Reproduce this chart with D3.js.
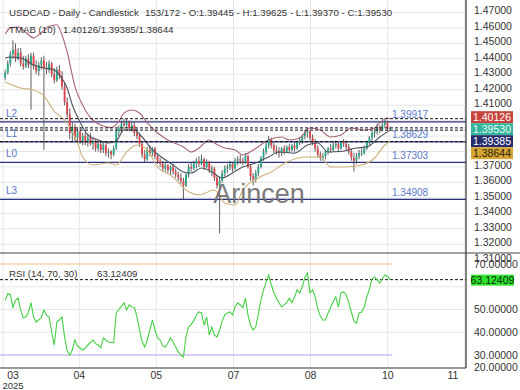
<!DOCTYPE html>
<html>
<head>
<meta charset="utf-8">
<script src="https://cdn.jsdelivr.net/npm/d3@7"></script>
<style>
  html, body { margin: 0; padding: 0; background: #fff; }
  svg { display: block; font-family: "Liberation Sans", Arial, sans-serif; }
</style>
</head>
<body>
<svg id="chart" width="520" height="390"></svg>
<script>
// Daily candles, [open, high, low, close]
const ohlc = [
  [1.4280,1.4330,1.4260,1.4310],[1.4310,1.4390,1.4300,1.4370],[1.4370,1.4450,1.4350,1.4430],[1.4430,1.4520,1.4400,1.4460],
  [1.4460,1.4500,1.4380,1.4400],[1.4400,1.4470,1.4390,1.4440],[1.4440,1.4470,1.4350,1.4370],[1.4370,1.4420,1.4330,1.4350],
  [1.4350,1.4420,1.4340,1.4400],[1.4400,1.4430,1.4340,1.4360],[1.4360,1.4440,1.4070,1.4420],[1.4420,1.4440,1.4330,1.4350],
  [1.4350,1.4390,1.4300,1.4320],[1.4320,1.4380,1.4290,1.4360],[1.4360,1.4410,1.4330,1.4390],[1.4390,1.4420,1.3810,1.4340],
  [1.4340,1.4380,1.4300,1.4330],[1.4330,1.4390,1.4310,1.4370],[1.4370,1.4380,1.4280,1.4300],[1.4300,1.4340,1.4240,1.4260],
  [1.4260,1.4350,1.4250,1.4330],[1.4330,1.4360,1.4270,1.4290],[1.4290,1.4320,1.4200,1.4220],[1.4220,1.4240,1.4100,1.4120],
  [1.4120,1.4150,1.4020,1.4040],[1.4040,1.4080,1.3880,1.3920],[1.3920,1.3990,1.3860,1.3960],[1.3960,1.3980,1.3870,1.3890],
  [1.3890,1.3950,1.3850,1.3930],[1.3930,1.3960,1.3850,1.3870],[1.3870,1.3920,1.3840,1.3900],[1.3900,1.3920,1.3840,1.3860],
  [1.3860,1.3910,1.3830,1.3890],[1.3890,1.3920,1.3840,1.3850],[1.3850,1.3890,1.3810,1.3870],[1.3870,1.3880,1.3800,1.3820],
  [1.3820,1.3870,1.3800,1.3850],[1.3850,1.3870,1.3790,1.3810],[1.3810,1.3860,1.3790,1.3840],[1.3840,1.3850,1.3770,1.3790],
  [1.3790,1.3820,1.3760,1.3800],[1.3800,1.3810,1.3750,1.3780],[1.3780,1.3840,1.3770,1.3820],[1.3820,1.3950,1.3810,1.3930],
  [1.3930,1.3970,1.3900,1.3950],[1.3950,1.4000,1.3920,1.3980],[1.3980,1.4010,1.3940,1.3970],[1.3970,1.4010,1.3950,1.3990],
  [1.3990,1.4000,1.3930,1.3950],[1.3950,1.3990,1.3930,1.3970],[1.3970,1.3990,1.3900,1.3920],[1.3920,1.3950,1.3880,1.3900],
  [1.3900,1.3920,1.3830,1.3850],[1.3850,1.3870,1.3760,1.3780],[1.3780,1.3810,1.3730,1.3750],[1.3750,1.3830,1.3740,1.3810],
  [1.3810,1.3840,1.3770,1.3790],[1.3790,1.3830,1.3770,1.3820],[1.3820,1.3830,1.3750,1.3770],[1.3770,1.3790,1.3720,1.3740],
  [1.3740,1.3760,1.3700,1.3720],[1.3720,1.3740,1.3670,1.3690],[1.3690,1.3730,1.3670,1.3710],[1.3710,1.3720,1.3660,1.3680],
  [1.3680,1.3710,1.3650,1.3700],[1.3700,1.3720,1.3650,1.3670],[1.3670,1.3690,1.3630,1.3650],[1.3650,1.3670,1.3610,1.3630],
  [1.3630,1.3660,1.3590,1.3610],[1.3610,1.3630,1.3490,1.3580],[1.3580,1.3660,1.3570,1.3650],[1.3650,1.3720,1.3630,1.3700],
  [1.3700,1.3730,1.3670,1.3690],[1.3690,1.3740,1.3680,1.3720],[1.3720,1.3760,1.3690,1.3740],[1.3740,1.3770,1.3700,1.3720],
  [1.3720,1.3780,1.3710,1.3750],[1.3750,1.3760,1.3680,1.3700],[1.3700,1.3750,1.3690,1.3730],[1.3730,1.3740,1.3660,1.3680],
  [1.3680,1.3710,1.3640,1.3690],[1.3690,1.3700,1.3610,1.3630],[1.3630,1.3650,1.3560,1.3580],[1.3580,1.3640,1.3270,1.3610],
  [1.3610,1.3680,1.3600,1.3660],[1.3660,1.3710,1.3640,1.3690],[1.3690,1.3720,1.3660,1.3700],[1.3700,1.3740,1.3680,1.3720],
  [1.3720,1.3730,1.3670,1.3690],[1.3690,1.3760,1.3680,1.3740],[1.3740,1.3770,1.3710,1.3750],[1.3750,1.3780,1.3720,1.3740],
  [1.3740,1.3760,1.3710,1.3730],[1.3730,1.3790,1.3720,1.3770],[1.3770,1.3780,1.3690,1.3700],[1.3700,1.3720,1.3610,1.3640],
  [1.3640,1.3660,1.3580,1.3620],[1.3620,1.3680,1.3600,1.3660],[1.3660,1.3720,1.3640,1.3700],[1.3700,1.3770,1.3690,1.3760],
  [1.3760,1.3820,1.3740,1.3800],[1.3800,1.3860,1.3780,1.3840],[1.3840,1.3900,1.3820,1.3880],[1.3880,1.3890,1.3820,1.3840],
  [1.3840,1.3860,1.3790,1.3810],[1.3810,1.3840,1.3780,1.3800],[1.3800,1.3830,1.3760,1.3790],[1.3790,1.3830,1.3770,1.3820],
  [1.3820,1.3840,1.3780,1.3800],[1.3800,1.3840,1.3790,1.3830],[1.3830,1.3850,1.3790,1.3810],[1.3810,1.3850,1.3800,1.3840],
  [1.3840,1.3860,1.3800,1.3820],[1.3820,1.3870,1.3810,1.3860],[1.3860,1.3890,1.3840,1.3870],[1.3870,1.3910,1.3850,1.3900],
  [1.3900,1.3940,1.3880,1.3920],[1.3920,1.3950,1.3890,1.3930],[1.3930,1.3940,1.3870,1.3890],[1.3890,1.3910,1.3840,1.3860],
  [1.3860,1.3880,1.3800,1.3820],[1.3820,1.3840,1.3760,1.3780],[1.3780,1.3800,1.3740,1.3760],[1.3760,1.3790,1.3740,1.3770],
  [1.3770,1.3810,1.3750,1.3800],[1.3800,1.3830,1.3780,1.3820],[1.3820,1.3850,1.3790,1.3810],[1.3810,1.3860,1.3800,1.3840],
  [1.3840,1.3870,1.3820,1.3850],[1.3850,1.3860,1.3800,1.3820],[1.3820,1.3870,1.3810,1.3860],[1.3860,1.3880,1.3830,1.3850],
  [1.3850,1.3870,1.3810,1.3830],[1.3830,1.3850,1.3780,1.3800],[1.3800,1.3820,1.3740,1.3760],[1.3760,1.3790,1.3670,1.3740],
  [1.3740,1.3790,1.3720,1.3770],[1.3770,1.3810,1.3750,1.3790],[1.3790,1.3820,1.3770,1.3790],[1.3790,1.3840,1.3780,1.3820],
  [1.3820,1.3870,1.3810,1.3860],[1.3860,1.3900,1.3840,1.3890],[1.3890,1.3930,1.3870,1.3920],[1.3920,1.3950,1.3890,1.3930],
  [1.3930,1.3980,1.3910,1.3960],[1.3960,1.3970,1.3920,1.3940],[1.3940,1.3990,1.3930,1.3975],[1.3975,1.4005,1.3950,1.3990],
  [1.3990,1.4000,1.3940,1.3945],[1.39445,1.39625,1.39370,1.39530]
];

// TMA band samples, [candle index, price]
const tmaUpper = [[0,1.4560],[2,1.4600],[5,1.4605],[8,1.4570],[11,1.4535],[14,1.4570],[17,1.4610],[20,1.4620],[22,1.4554],
  [24,1.4444],[27,1.4220],[30,1.4100],[33,1.4020],[37,1.3972],[41,1.3955],[44,1.3995],[46,1.4050],[49,1.4069],[52,1.4049],
  [55,1.3985],[59,1.3920],[63,1.3875],[69,1.3829],[72,1.3797],[75,1.3823],[79,1.3875],[81,1.3855],[85,1.3823],[89,1.3810],
  [92,1.3778],[96,1.3810],[102,1.3875],[107,1.3894],[110,1.3875],[114,1.3888],[118,1.3952],[122,1.3939],[126,1.3894],
  [130,1.3907],[134,1.3952],[139,1.3939],[143,1.3952],[145,1.3985],[148,1.4017],[149,1.40126]];
const tmaMid = [[0,1.4405],[2,1.4412],[6,1.4405],[11,1.4360],[15,1.4341],[19,1.4328],[21,1.4295],[24,1.4211],[26,1.4101],
  [29,1.3991],[32,1.3907],[36,1.3875],[40,1.3855],[43,1.3868],[46,1.3939],[50,1.3939],[53,1.3894],[57,1.3810],[61,1.3758],
  [65,1.3713],[69,1.3668],[72,1.3661],[76,1.3693],[80,1.3668],[84,1.3629],[88,1.3661],[92,1.3700],[97,1.3726],[102,1.3765],
  [106,1.3797],[112,1.3790],[117,1.3842],[121,1.3855],[125,1.3797],[130,1.3800],[136,1.3823],[140,1.3829],[145,1.3894],
  [149,1.39385]];
const tmaLower = [[0,1.4250],[6,1.4211],[11,1.4198],[15,1.4160],[19,1.4060],[24,1.3985],[28,1.3855],[30,1.3765],[34,1.3713],
  [40,1.3726],[43,1.3713],[47,1.3797],[51,1.3842],[55,1.3810],[59,1.3700],[65,1.3635],[70,1.3551],[75,1.3520],[81,1.3551],
  [85,1.3467],[89,1.3454],[92,1.3551],[98,1.3629],[103,1.3668],[109,1.3732],[117,1.3765],[122,1.3765],[126,1.3700],
  [131,1.3700],[138,1.3713],[143,1.3758],[147,1.3842],[149,1.38644]];

// RSI(14), one value per candle
const rsi = [54,57,56.5,51,54,55,49.8,46.3,46.7,48.9,53,46.7,44.5,45.5,46.3,49.8,47.5,46.7,40,34.4,
  44.5,45.5,46.7,38,32,30,32.2,36.6,34,33.1,32.2,33,34.4,35.5,36.6,35,34.4,33.1,37.5,36.5,
  35.7,35.5,35.3,48.5,50,51.5,52.9,49.8,52,51.1,51,47,41,36,33.5,36.6,41,45.4,41,37.5,
  36.6,34,33.5,35.3,37.5,35.7,33.5,31.5,30,29.1,38,42.3,43.5,45,47.5,48.9,48.5,43,46.7,38.8,
  42.3,38.8,37.9,41,45,47.6,48.5,48.9,47.6,51.1,52.9,52,50.7,55,47.5,43,41,42.3,48,54.2,
  58.5,62,65.2,61,57.5,55,53,51.1,52,53,55,53,55.5,58.6,57.3,60,64,66,57.3,58.6,
  55.5,50.5,47,45.4,45.4,48.5,51,53.5,55.5,51.1,57.3,57.7,56.5,53,48.9,45,44,48.5,48.9,51,
  55.5,59,63.5,64.3,63,61.6,63.5,65.2,64.5,63.12409];

const levels = [
  { name: 'L2', value: 1.39917 },
  { name: 'L1', value: 1.38629 },
  { name: 'L0', value: 1.37303 },
  { name: 'L3', value: 1.34908 },
];
const priceTicks = [1.31,1.32,1.33,1.34,1.35,1.36,1.37,1.38,1.39,1.40,1.41,1.42,1.43,1.44,1.45,1.46,1.47];
const rsiTicks = [20,30,40,50,60,70];
const dateTicks = [-0.8, 28.7, 58.5, 88.4, 118.2, 148.1, 177.9];
const dateLabels = ['03','04','05','07','08','10','11'];

const W = 520, PLOT_R = 466, PRICE_B = 253, RSI_B = 368;
const svg = d3.select('#chart');

const x = d3.scaleLinear().domain([-2, 178]).range([0, 465]);
const y = d3.scaleLinear().domain([1.31, 1.48]).range([259.7, -3]);
const r = d3.scaleLinear().domain([30, 70]).range([355, 264]);

const defs = svg.append('defs');
defs.append('clipPath').attr('id', 'clipPrice')
  .append('rect').attr('x', 0).attr('y', 0).attr('width', PLOT_R).attr('height', PRICE_B);
defs.append('clipPath').attr('id', 'clipRsi')
  .append('rect').attr('x', 0).attr('y', PRICE_B).attr('width', PLOT_R).attr('height', RSI_B - PRICE_B);

svg.append('rect').attr('width', W).attr('height', 390).attr('fill', '#fff');

// ── grid ────────────────────────────────────────────────────────────────
const gp = svg.append('g').attr('clip-path', 'url(#clipPrice)');
gp.selectAll('line.h').data(priceTicks).join('line')
  .attr('x1', 0).attr('x2', PLOT_R).attr('y1', d => y(d)).attr('y2', d => y(d))
  .attr('stroke', '#e6e6e6').attr('stroke-width', 1);
gp.selectAll('line.v').data(dateTicks).join('line')
  .attr('x1', d => x(d)).attr('x2', d => x(d)).attr('y1', 0).attr('y2', PRICE_B)
  .attr('stroke', '#e6e6e6').attr('stroke-width', 1);

const gr = svg.append('g').attr('clip-path', 'url(#clipRsi)');
gr.selectAll('line.h').data([40, 50, 60]).join('line')
  .attr('x1', 0).attr('x2', PLOT_R).attr('y1', d => r(d)).attr('y2', d => r(d))
  .attr('stroke', '#e6e6e6');
gr.selectAll('line.v').data(dateTicks).join('line')
  .attr('x1', d => x(d)).attr('x2', d => x(d)).attr('y1', PRICE_B).attr('y2', RSI_B)
  .attr('stroke', '#e6e6e6');

// watermark
svg.append('text').attr('x', 259).attr('y', 203).attr('text-anchor', 'middle')
  .attr('font-size', 27).attr('fill', '#6e6e6e').attr('opacity', 0.9).text('Arincen');

// ── level lines ─────────────────────────────────────────────────────────
gp.selectAll('line.lvl').data(levels).join('line')
  .attr('x1', 0).attr('x2', PLOT_R).attr('y1', d => y(d.value)).attr('y2', d => y(d.value))
  .attr('stroke', '#2b2f7f').attr('stroke-width', 1.2);

// ── candles ─────────────────────────────────────────────────────────────
const cg = gp.append('g');
cg.selectAll('line.wick').data(ohlc).join('line')
  .attr('x1', (d, i) => x(i)).attr('x2', (d, i) => x(i))
  .attr('y1', d => y(d[1])).attr('y2', d => y(d[2]))
  .attr('stroke', '#3a3a3a').attr('stroke-width', 0.8);
cg.selectAll('rect').data(ohlc).join('rect')
  .attr('x', (d, i) => x(i) - 0.95).attr('width', 1.9)
  .attr('y', d => y(Math.max(d[0], d[3])))
  .attr('height', d => Math.max(0.8, Math.abs(y(d[0]) - y(d[3]))))
  .attr('fill', d => d[3] >= d[0] ? '#2aa88a' : '#e0464e');

// ── TMA bands ───────────────────────────────────────────────────────────
const band = d3.line().x(d => x(d[0])).y(d => y(d[1])).curve(d3.curveMonotoneX);
[[tmaUpper, '#a8667a'], [tmaMid, '#4a5360'], [tmaLower, '#cdb27c']].forEach(([s, c]) =>
  gp.append('path').datum(s).attr('d', band).attr('fill', 'none').attr('stroke', c).attr('stroke-width', 1.1));

// dashed current-value lines
const last = ohlc[ohlc.length - 1];
const upLast = tmaUpper[tmaUpper.length - 1][1];
const midLast = tmaMid[tmaMid.length - 1][1];
const loLast = tmaLower[tmaLower.length - 1][1];
gp.selectAll('line.dash').data([upLast, last[3], midLast, loLast]).join('line')
  .attr('x1', 0).attr('x2', PLOT_R).attr('y1', d => y(d)).attr('y2', d => y(d))
  .attr('stroke', '#111').attr('stroke-width', 1).attr('stroke-dasharray', '3,2');

// level labels
svg.selectAll('text.lname').data(levels).join('text')
  .attr('x', 6).attr('y', d => y(d.value) - 5).attr('font-size', 10).attr('fill', '#5a78c8')
  .text(d => d.name);
svg.selectAll('text.lval').data(levels).join('text')
  .attr('x', 392).attr('y', d => y(d.value) - 3.5).attr('font-size', 10).attr('fill', '#5a78c8')
  .text(d => d.value.toFixed(5));

// ── RSI panel ───────────────────────────────────────────────────────────
gr.append('line').attr('x1', 0).attr('x2', x(149) + 2).attr('y1', r(70)).attr('y2', r(70))
  .attr('stroke', '#f3bf78').attr('stroke-width', 1.2);
gr.append('line').attr('x1', 0).attr('x2', x(149) + 2).attr('y1', r(30)).attr('y2', r(30))
  .attr('stroke', '#b89ae6').attr('stroke-width', 1.2);
const rsiLast = rsi[rsi.length - 1];
gr.append('line').attr('x1', 0).attr('x2', PLOT_R).attr('y1', r(rsiLast)).attr('y2', r(rsiLast))
  .attr('stroke', '#111').attr('stroke-dasharray', '3,2');
gr.append('path').datum(rsi)
  .attr('d', d3.line().x((d, i) => x(i)).y(d => r(d)))
  .attr('fill', 'none').attr('stroke', '#45d045').attr('stroke-width', 1.1);

// ── frame ───────────────────────────────────────────────────────────────
svg.append('line').attr('x1', 0).attr('x2', W).attr('y1', PRICE_B).attr('y2', PRICE_B)
  .attr('stroke', '#444').attr('stroke-width', 1.2);
svg.append('line').attr('x1', 0).attr('x2', PLOT_R).attr('y1', RSI_B).attr('y2', RSI_B)
  .attr('stroke', '#333').attr('stroke-width', 1.2);
svg.append('line').attr('x1', PLOT_R).attr('x2', PLOT_R).attr('y1', 0).attr('y2', RSI_B)
  .attr('stroke', '#333').attr('stroke-width', 1.2);

// ── right-side value boxes (placed first so the axis can skip hidden ticks)
const boxes = [
  { v: upLast, fill: '#c7443e', color: '#fff' },
  { v: last[3], fill: '#35b59b', color: '#eafff8' },
  { v: midLast, fill: '#262c6c', color: '#fff' },
  { v: loLast, fill: '#d5a637', color: '#2e2200' },
];
let prev = -Infinity;
boxes.forEach(b => { b.cy = Math.max(y(b.v) - 1.5, prev + 12); prev = b.cy; });
const covered = v => boxes.some(b => Math.abs(y(v) - b.cy) < 9);

// ── right axes ──────────────────────────────────────────────────────────
svg.selectAll('text.py').data(priceTicks.filter(d => !covered(d))).join('text')
  .attr('x', 474).attr('y', d => y(d) + 2).attr('font-size', 10.5).attr('fill', '#333')
  .text(d => d.toFixed(5));
svg.selectAll('text.ry').data(rsiTicks.filter(d => Math.abs(r(d) - r(rsiLast)) > 8)).join('text')
  .attr('x', 474).attr('y', d => Math.min(371, Math.max(262, r(d) + 3.5))).attr('font-size', 10.5).attr('fill', '#333')
  .text(d => d.toFixed(5));

boxes.forEach(b => {
  svg.append('rect').attr('x', 471).attr('y', b.cy - 6).attr('width', 42).attr('height', 12).attr('fill', b.fill);
  svg.append('text').attr('x', 492).attr('y', b.cy + 4).attr('text-anchor', 'middle')
    .attr('font-size', 10.5).attr('fill', b.color).text(b.v.toFixed(5));
});
svg.append('rect').attr('x', 471).attr('y', r(rsiLast) - 5).attr('width', 43).attr('height', 11).attr('fill', '#2ee22e');
svg.append('text').attr('x', 492.5).attr('y', r(rsiLast) + 4).attr('text-anchor', 'middle')
  .attr('font-size', 10.5).attr('fill', '#0b2a0b').text(rsiLast.toFixed(5));

// ── x axis ──────────────────────────────────────────────────────────────
svg.selectAll('text.xl').data(dateTicks).join('text')
  .attr('x', d => Math.min(453, Math.max(13, x(d)))).attr('y', 379).attr('text-anchor', 'middle')
  .attr('font-size', 10.5).attr('fill', '#333')
  .text((d, i) => dateLabels[i]);
svg.append('text').attr('x', 13).attr('y', 388.5).attr('text-anchor', 'middle')
  .attr('font-size', 9.5).attr('fill', '#333').text('2025');

// ── header ──────────────────────────────────────────────────────────────
const f = v => v.toFixed(5);
svg.append('text').attr('x', 9).attr('y', 16).attr('font-size', 9.7).attr('fill', '#333')
  .text('USDCAD - Daily - Candlestick');
svg.append('text').attr('x', 145).attr('y', 16).attr('font-size', 9.7).attr('fill', '#333')
  .text(`153/172 - O:${f(last[0])} - H:${f(last[1])} - L:${f(last[2])} - C:${f(last[3])}`);
svg.append('text').attr('x', 9).attr('y', 33).attr('font-size', 9.7).attr('fill', '#333')
  .text('TMAB (10)');
svg.append('text').attr('x', 63).attr('y', 33).attr('font-size', 9.7).attr('fill', '#333')
  .text(`${f(upLast)}/${f(midLast)}/${f(loLast)}`);
svg.append('text').attr('x', 9).attr('y', 277).attr('font-size', 9.7).attr('fill', '#333')
  .text('RSI (14, 70, 30)');
svg.append('text').attr('x', 97).attr('y', 277).attr('font-size', 9.7).attr('fill', '#333')
  .text(f(rsiLast));
</script>
</body>
</html>
